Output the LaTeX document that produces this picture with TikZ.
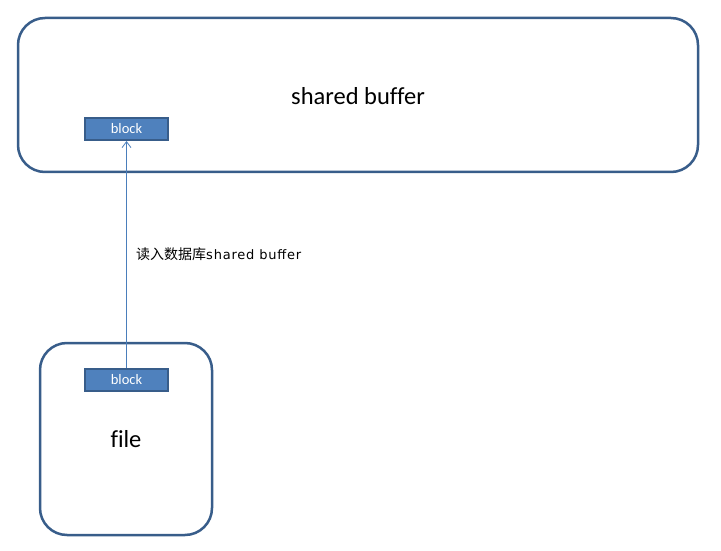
\documentclass[tikz,border=0pt]{standalone}
\usepackage{fontspec}
\setmainfont{Carlito}[Ligatures=NoCommon]
\newfontfamily\cjk{Noto Sans CJK SC}
\newfontfamily\dvs{DejaVu Sans}[LetterSpace=6]
\usetikzlibrary{arrows.meta}
\definecolor{edgeblue}{HTML}{385D8A}
\definecolor{fillblue}{HTML}{4F81BD}
\definecolor{arrowblue}{HTML}{4A7EBB}
\tikzset{
  bigbox/.style={draw=edgeblue, line width=2.5pt, rounded corners=27pt, fill=white},
  blockbox/.style={draw=edgeblue, line width=2pt, fill=fillblue, minimum width=83pt, minimum height=22pt, inner sep=0pt, text=white, font=\fontsize{14.5}{16}\selectfont},
  conn/.style={draw=arrowblue, line width=0.8pt, -{Straight Barb[length=6pt,width=9pt]}},
  bigtext/.style={font=\fontsize{24.5}{28}\selectfont}
}
\begin{document}
\begin{tikzpicture}[x=1pt,y=1pt]
\useasboundingbox (0,0) rectangle (721,550);
\draw[bigbox] (18,378) rectangle (698,532);
\node[bigtext] (sb) at (358,454) {shared buffer};
\draw[bigbox] (40,15) rectangle (212,207);
\node[bigtext] (file) at (126,111) {f\kern0pt ile};
\node[blockbox] (b1) at (126.5,421) {block};
\node[blockbox] (b2) at (126.5,170) {block};
\draw[conn] (b2.north) -- (b1.south) node[pos=0.5, right=6pt, text=black] (lbl) {\cjk\fontsize{14}{16}\selectfont 读入数据库\dvs\fontsize{13}{16}\selectfont shared buffer};
\end{tikzpicture}
\end{document}
